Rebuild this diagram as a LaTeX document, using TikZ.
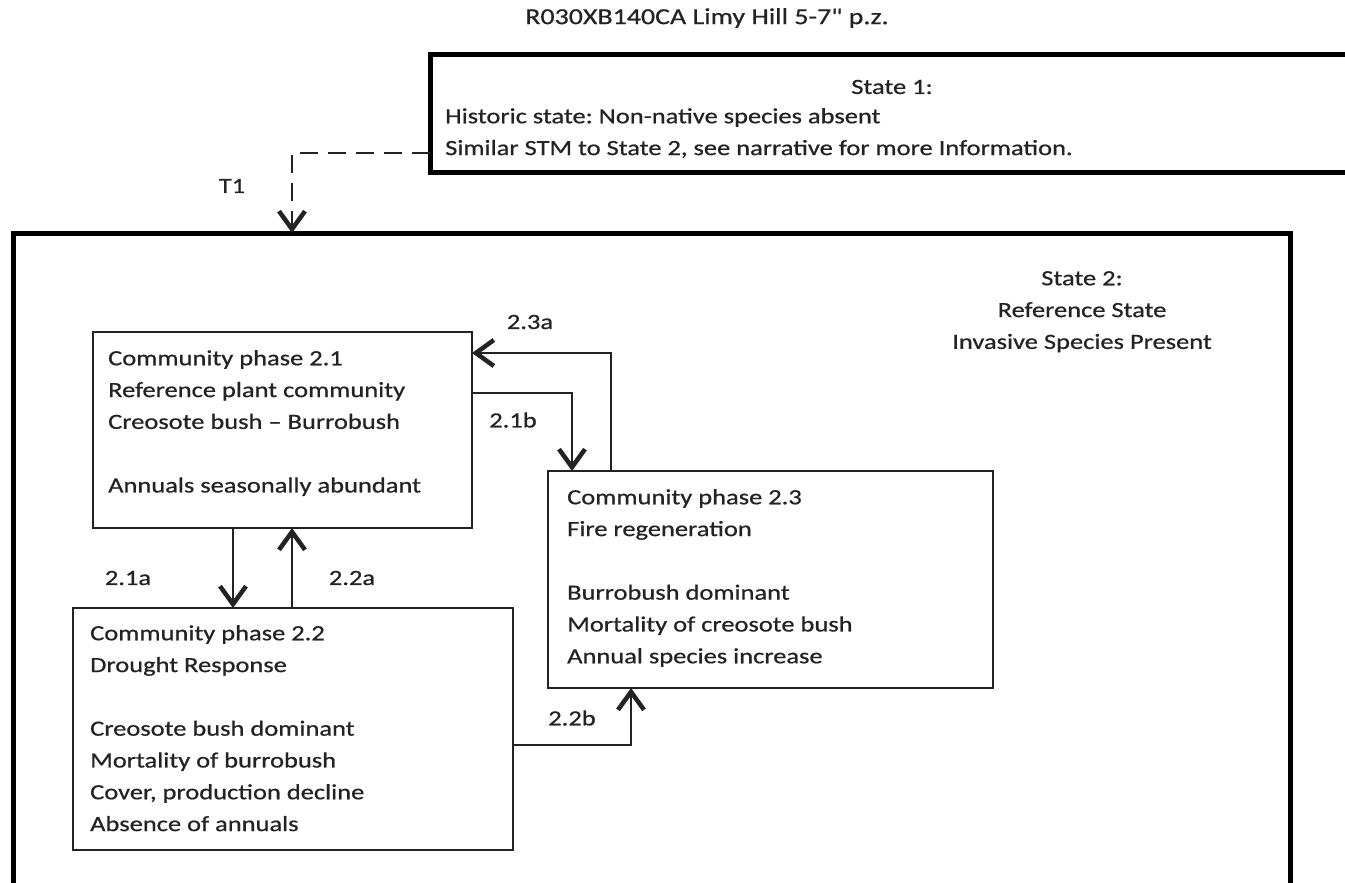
\documentclass[tikz,border=0pt]{standalone}
\usepackage{fontspec}
\setmainfont{Carlito}[FakeStretch=1.22,FakeBold=0.7]
\newfontfamily\rawfont{Carlito}[FakeStretch=1.22,FakeBold=0.7]
\usetikzlibrary{arrows.meta}
\definecolor{ink}{RGB}{35,35,35}
\tikzset{
  statebox/.style={draw=black, line width=5pt, outer sep=0pt, inner sep=0pt, anchor=north west},
  phasebox/.style={draw=ink, line width=2pt, outer sep=0pt, inner sep=0pt, anchor=north west},
  txt/.style={text=ink, font=\fontsize{21.7}{31.8}\selectfont, inner sep=0pt},
  lines/.style={txt, align=left, anchor=north west},
  conn/.style={draw=ink, line width=2pt, -{Straight Barb[length=18pt,width=26pt,line width=4.5pt]}},
  dconn/.style={conn, dash pattern=on 18pt off 10pt, line width=2.5pt}
}
\frenchspacing
\begin{document}
\begin{tikzpicture}[x=1pt,y=-1pt]
\useasboundingbox (0,0) rectangle (1345,883);
\clip (0,0) rectangle (1345,883);

% title
\node[txt, font=\fontsize{22.9}{31.8}\selectfont] (title) at (707,18) {R030XB140CA Limy Hill 5-7{\rawfont"} p.z.};

% state 1 box
\node[statebox, minimum width=1000pt, minimum height=117pt] (s1) at (430,55) {};
\node[txt] (s1title) at (892,87) {State 1:};
\node[lines] (s1text) at (445,108) {Historic state: Non-native species absent\\Similar STM to State 2, see narrative for more Information.};

% state 2 box
\node[statebox, minimum width=1277pt, minimum height=700pt] (s2) at (13,233) {};
\node[txt, align=center, anchor=north] (s2title) at (1082,271) {State 2:\\Reference State\\Invasive Species Present};

% community phases
\node[phasebox, minimum width=379pt, minimum height=196pt] (b21) at (93,332) {};
\node[lines] (t21) at (108,350) {Community phase 2.1\\Reference plant community\\Creosote bush -- Burrobush\\\mbox{}\\Annuals seasonally abundant};

\node[phasebox, minimum width=445pt, minimum height=217pt] (b23) at (548,471) {};
\node[lines] (t23) at (567,489) {Community phase 2.3\\Fire regeneration\\\mbox{}\\Burrobush dominant\\Mortality of creosote bush\\Annual species increase};

\node[phasebox, minimum width=440pt, minimum height=242pt] (b22) at (73,608) {};
\node[lines] (t22) at (90,625) {Community phase 2.2\\Drought Response\\\mbox{}\\Creosote bush dominant\\Mortality of burrobush\\Cover, production decline\\Absence of annuals};

% transitions
\draw[dconn] ([yshift=-39.5pt]s1.west) -| ([xshift=279pt]s2.north west);
\node[txt] (lT1) at (232,186) {T1};

\draw[conn] ([xshift=140pt]b21.south west) -- ([xshift=160pt]b22.north west);
\node[txt] (l21a) at (128,578) {2.1a};
\draw[conn] ([xshift=219pt]b22.north west) -- ([xshift=199pt]b21.south west);
\node[txt] (l22a) at (352,578) {2.2a};

\draw[conn] ([yshift=37pt]b21.east) -| ([xshift=24pt]b23.north west);
\node[txt] (l21b) at (513,420) {2.1b};
\draw[conn] ([xshift=63pt]b23.north west) |- ([yshift=77pt]b21.east);
\node[txt] (l23a) at (530,322) {2.3a};

\draw[conn] ([yshift=-16pt]b22.east) -| ([xshift=83pt]b23.south west);
\node[txt] (l22b) at (572,718) {2.2b};
\end{tikzpicture}
\end{document}
